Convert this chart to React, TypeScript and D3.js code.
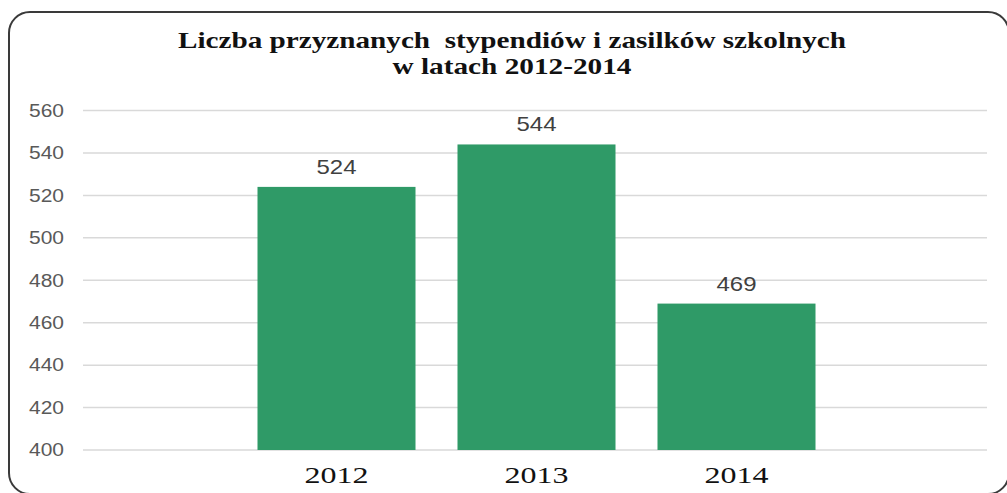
import * as d3 from "d3"

const years = ["2012", "2013", "2014"]
const counts = [524, 544, 469]
const yTicks = [400, 420, 440, 460, 480, 500, 520, 540, 560]
const titleLines = ["Liczba przyznanych  stypendiów i zasilków szkolnych", "w latach 2012-2014"]

const W = 1007
const H = 493

const App = () => {
  const x = d3.scaleBand<string>().domain(years).range([236.5, 836.5]).paddingInner(0.21).paddingOuter(0.105)
  const y = d3.scaleLinear().domain([400, 560]).range([450, 110.5])

  const gridX0 = 83
  const gridX1 = 987

  return (
    <svg width={W} height={H} style={{ position: "absolute", left: 0, top: 0, background: "#fff" }}>
      {/* frame */}
      <rect x={9} y={12} width={1000} height={482} rx={21} ry={21} fill="none" stroke="#3a3a3a" strokeWidth={2} />

      {/* title */}
      <text x={512} y={48} textAnchor="middle" fontFamily="Liberation Serif" fontWeight="bold" fontSize={24}
        fill="#111" textLength={668} lengthAdjust="spacingAndGlyphs" xmlSpace="preserve">
        {titleLines[0]}
      </text>
      <text x={512} y={74} textAnchor="middle" fontFamily="Liberation Serif" fontWeight="bold" fontSize={24}
        fill="#111" textLength={239} lengthAdjust="spacingAndGlyphs">
        {titleLines[1]}
      </text>

      {/* grid + y labels */}
      {yTicks.map((t) => (
        <g key={t}>
          <line x1={gridX0} x2={gridX1} y1={y(t)} y2={y(t)} stroke="#d9d9d9" strokeWidth={1.5} />
          <text x={64} y={y(t)} dy="0.35em" textAnchor="end" fontFamily="Liberation Sans" fontSize={18}
            fill="#595959" textLength={35} lengthAdjust="spacingAndGlyphs">
            {t}
          </text>
        </g>
      ))}

      {/* bars */}
      {years.map((yr, i) => (
        <g key={yr}>
          <rect x={x(yr)} y={y(counts[i])} width={x.bandwidth()} height={y(400) - y(counts[i])} fill="#2f9a67" />
          <text x={(x(yr) ?? 0) + x.bandwidth() / 2} y={y(counts[i]) - 13} textAnchor="middle"
            fontFamily="Liberation Sans" fontSize={21} fill="#404040" textLength={40} lengthAdjust="spacingAndGlyphs">
            {counts[i]}
          </text>
          <text x={(x(yr) ?? 0) + x.bandwidth() / 2} y={483} textAnchor="middle"
            fontFamily="Liberation Serif" fontSize={24} fill="#111" textLength={64} lengthAdjust="spacingAndGlyphs">
            {yr}
          </text>
        </g>
      ))}
    </svg>
  )
}

export default App
